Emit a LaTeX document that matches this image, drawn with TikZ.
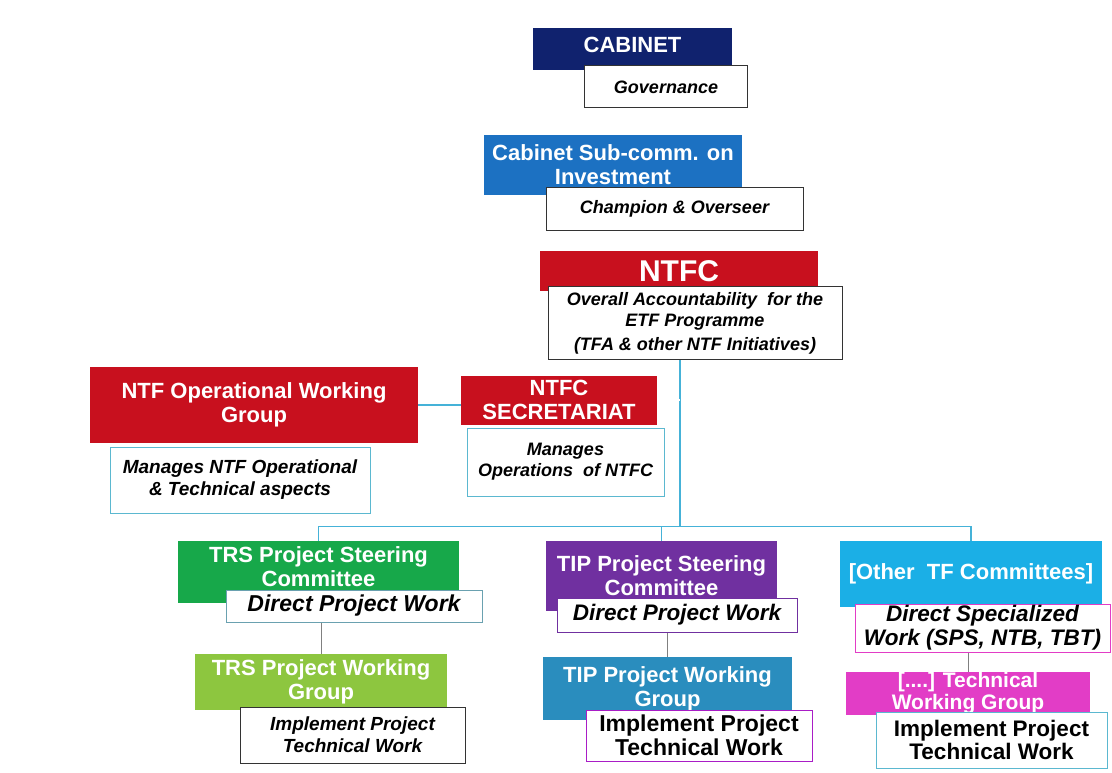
\documentclass[tikz,border=0pt]{standalone}
\usepackage{fontspec}
\setmainfont{Liberation Sans}
\usetikzlibrary{positioning}

\definecolor{cabnavy}{HTML}{10226E}
\definecolor{subblue}{HTML}{1C71C2}
\definecolor{ntfred}{HTML}{C8101E}
\definecolor{trsgreen}{HTML}{17A84A}
\definecolor{wggreen}{HTML}{8DC63F}
\definecolor{tippurple}{HTML}{7030A0}
\definecolor{tipteal}{HTML}{2A8DBE}
\definecolor{othcyan}{HTML}{1BAFE6}
\definecolor{techpink}{HTML}{E23DC6}
\definecolor{linkblue}{HTML}{45B2D8}
\definecolor{edgeteal}{HTML}{5BB8D0}

\begin{document}
\begin{tikzpicture}[x=1pt,y=-1pt,
    head/.style={fill=#1, text=white, align=center, inner sep=0pt,
      font=\bfseries\fontsize{22}{24}\selectfont},
    desc/.style={fill=white, draw=#1, line width=1pt, align=center, inner sep=0pt,
      font=\bfseries\itshape\fontsize{18}{21}\selectfont},
    desc/.default=black!80,
    link/.style={draw=linkblue, line width=1.2pt},
    tick/.style={draw=gray, line width=0.8pt}]

    \fill[white] (0,0) rectangle (1112,773);
    \useasboundingbox (0,0) rectangle (1112,773);

    % top of the chain
    \node (cab) [head=cabnavy, minimum width=199, minimum height=42, text depth=9pt] at (632.5,49) {CABINET};
    \node (gov) [desc, minimum width=163, minimum height=42] at (666,87) {Governance};

    \node (sub) [head=subblue, minimum width=258, minimum height=60] at (613,165) {Cabinet Sub-comm. on\\Investment};
    \node (champ) [desc, minimum width=257, minimum height=42] at (674.5,209) {Champion \& Overseer};

    \node (ntfc) [head=ntfred, minimum width=278, minimum height=40, font=\bfseries\fontsize{30}{32}\selectfont] at (679,271) {NTFC};
    \node (acc) [desc, minimum width=294, minimum height=73, font=\bfseries\itshape\fontsize{18}{21}\selectfont] at (695,323)
        {Overall Accountability\ \ for the\\ETF Programme\\[3pt](TFA \& other NTF Initiatives)};

    % middle row
    \node (owg) [head=ntfred, minimum width=328, minimum height=76] at (254,405) {NTF Operational Working\\Group};
    \node (owgd) [desc=edgeteal, minimum width=260, minimum height=66, font=\bfseries\itshape\fontsize{19}{22}\selectfont] at (240,480) {Manages NTF Operational\\\& Technical aspects};

    \node (sec) [head=ntfred, minimum width=196, minimum height=49] at (559,400) {NTFC\\SECRETARIAT};
    \node (secd) [desc=edgeteal, minimum width=197, minimum height=68] at (565.5,462) {Manages\\Operations\ \ of NTFC};

    \coordinate (hub) at (680,527);

    % bottom row
    \node (trs) [head=trsgreen, minimum width=281, minimum height=62, text depth=10pt] at (318.5,572) {TRS Project Steering\\Committee};
    \node (trsd) [desc=edgeteal!60!gray, minimum width=256, minimum height=32, font=\bfseries\itshape\fontsize{23}{25}\selectfont] at (354,606) {Direct Project Work};
    \node (trsw) [head=wggreen, minimum width=252, minimum height=56] at (321,682) {TRS Project Working\\Group};
    \node (trsi) [desc, minimum width=225, minimum height=56, font=\bfseries\itshape\fontsize{19}{22}\selectfont] at (352.5,735) {Implement Project\\Technical Work};

    \node (tip) [head=tippurple, minimum width=231, minimum height=70] at (661.5,576) {TIP Project Steering\\Committee};
    \node (tipd) [desc=tippurple, minimum width=240, minimum height=34, font=\bfseries\itshape\fontsize{22.5}{24}\selectfont] at (677,615) {Direct Project Work};
    \node (tipw) [head=tipteal, minimum width=249, minimum height=63] at (667.5,688.5) {TIP Project Working\\Group};
    \node (tipi) [desc=tippurple!60!magenta, minimum width=226, minimum height=51, font=\bfseries\fontsize{23}{23.5}\selectfont] at (699,735.5) {Implement Project\\Technical Work};

    \node (oth) [head=othcyan, minimum width=262, minimum height=66] at (971,574) {[Other\ \ TF Committees]};
    \node (othd) [desc=techpink, minimum width=255, minimum height=48, font=\bfseries\itshape\fontsize{22.5}{24}\selectfont] at (982.5,628) {Direct Specialized\\Work (SPS, NTB, TBT)};
    \node (tech) [head=techpink, minimum width=244, minimum height=43, font=\bfseries\fontsize{21}{22}\selectfont] at (968,693.5) {[....] Technical\\Working Group};
    \node (othi) [desc=edgeteal, minimum width=231, minimum height=56, font=\bfseries\fontsize{22.5}{23.5}\selectfont] at (991.5,740) {Implement Project\\Technical Work};

    % connectors
    \draw[link] (acc.south -| hub) -- (hub);
    \draw[link] (trs.north) -- ++(0,-14) -| (oth.north);
    \draw[link] (tip.north) -- (tip.north |- hub);
    \draw[link] (owg.east) -- (owg.east -| sec.west);
    \draw[link, double=white, double distance=1.2pt, line width=0.8pt] (sec.east) -- (sec.east -| hub);

    \draw[tick] (trsd.south -| trsw.north) -- (trsw.north);
    \draw[tick] (tipd.south -| tipw.north) -- (tipw.north);
    \draw[tick] (othd.south -| tech.north) -- (tech.north);

\end{tikzpicture}
\end{document}
